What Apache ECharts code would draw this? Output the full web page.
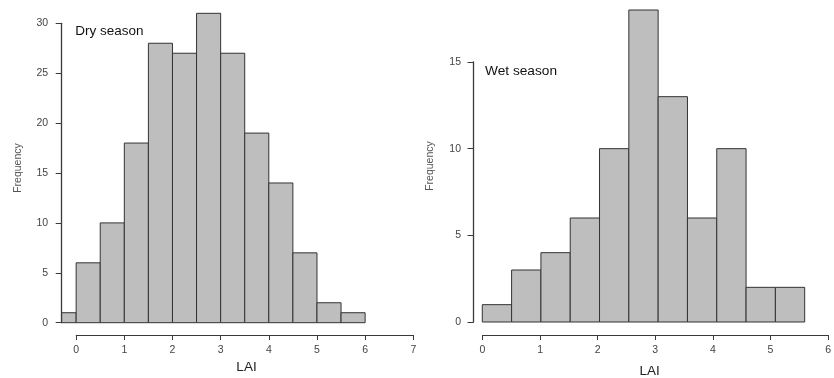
<!DOCTYPE html>
<html>
<head>
<meta charset="utf-8">
<script src="https://cdn.jsdelivr.net/npm/echarts@6/dist/echarts.min.js"></script>
<style>html,body{margin:0;padding:0;background:#fff;}#c{width:834px;height:378px;}</style>
</head>
<body>
<div id="c"></div>
<script>
// ---- data ----
const binWidth = 0.5;
const dryBinStarts = [-0.5, 0, 0.5, 1, 1.5, 2, 2.5, 3, 3.5, 4, 4.5, 5, 5.5];
const dryCounts    = [1, 6, 10, 18, 28, 27, 31, 27, 19, 14, 7, 2, 1];
const wetBinStarts = [0, 0.5, 1, 1.5, 2, 2.5, 3, 3.5, 4, 4.5, 5];
const wetCounts    = [1, 3, 4, 6, 10, 18, 13, 6, 10, 2, 2];
const dryXTicks = [0, 1, 2, 3, 4, 5, 6, 7];
const wetXTicks = [0, 1, 2, 3, 4, 5, 6];
const dryYTicks = [0, 5, 10, 15, 20, 25, 30];
const wetYTicks = [0, 5, 10, 15];
const dryTitle = 'Dry season';
const wetTitle = 'Wet season';
const xName = 'LAI';
const yName = 'Frequency';

// ---- chart ----
const FONT = "'Liberation Sans', Arial, sans-serif";
const AX = '#3a3a3a';
const chart = echarts.init(document.getElementById('c'), null, {renderer: 'canvas'});

function binData(starts, counts) {
  return starts.map((s, i) => [s, s + binWidth, counts[i]]);
}
function renderItem(params, api) {
  const lo = api.value(0), hi = api.value(1), n = api.value(2);
  const p0 = api.coord([lo, 0]);
  const p1 = api.coord([hi, n]);
  const cs = params.coordSys;
  const x0 = Math.max(p0[0], cs.x);
  return {
    type: 'rect',
    shape: {x: x0, y: p1[1], width: p1[0] - x0, height: p0[1] - p1[1]},
    style: {fill: '#bebebe', stroke: '#333', lineWidth: 1}
  };
}
function yDispCfg(grid, ticks, margin) {
  return {
    gridIndex: grid, type: 'value', min: ticks[0], max: ticks[ticks.length - 1],
    interval: ticks[1] - ticks[0], position: 'left',
    axisLine: {show: true, lineStyle: {color: AX, width: 1.3}},
    axisTick: {show: true, length: 6, lineStyle: {color: AX}},
    axisLabel: {margin: margin, fontSize: 10.5, fontFamily: FONT, color: '#444'},
    splitLine: {show: false}
  };
}
function xDispCfg(grid, ticks) {
  return {
    gridIndex: grid, type: 'value', min: ticks[0], max: ticks[ticks.length - 1],
    interval: ticks[1] - ticks[0], position: 'bottom',
    axisLine: {show: true, lineStyle: {color: AX, width: 1}},
    axisTick: {show: true, length: 5, lineStyle: {color: AX}},
    axisLabel: {margin: 9.5, fontSize: 10.5, fontFamily: FONT, color: '#444'},
    splitLine: {show: false}
  };
}
function hiddenAxis(grid, min, max) {
  return {gridIndex: grid, type: 'value', show: false, min: min, max: max,
          splitLine: {show: false}};
}
function txt(text, x, y, size, color, rot) {
  return {
    type: 'text', x: x, y: y, rotation: rot || 0, silent: true,
    style: {
      text: text, font: size + 'px ' + FONT, fill: color,
      textAlign: 'center', textVerticalAlign: 'middle', align: 'center', verticalAlign: 'middle'
    }
  };
}
function txtLeft(text, x, y, size, color) {
  const t = txt(text, x, y, size, color);
  t.style.textAlign = 'left'; t.style.align = 'left';
  return t;
}

const option = {
  animation: false,
  backgroundColor: '#fff',
  grid: [
    // 0: dry bars
    {left: 61.7, top: 23.3, width: 351.6, height: 299.4},
    // 1: dry x-axis display
    {left: 76.2, top: 334, width: 337.1, height: 1},
    // 2: wet bars
    {left: 473.5, top: 62, width: 363.2, height: 260},
    // 3: wet x-axis display
    {left: 482.5, top: 334, width: 354.2, height: 1},
    // 4: dry y-axis display
    {left: 61.7, top: 23.3, width: 10, height: 299.4},
    // 5: wet y-axis display
    {left: 473.5, top: 62, width: 10, height: 260}
  ],
  xAxis: [
    hiddenAxis(0, -0.3, 7),
    xDispCfg(1, dryXTicks),
    hiddenAxis(2, -0.15, 6),
    xDispCfg(3, wetXTicks),
    hiddenAxis(4, 0, 1),
    hiddenAxis(5, 0, 1)
  ],
  yAxis: [
    hiddenAxis(0, dryYTicks[0], dryYTicks[dryYTicks.length - 1]),
    hiddenAxis(1, 0, 1),
    hiddenAxis(2, wetYTicks[0], wetYTicks[wetYTicks.length - 1]),
    hiddenAxis(3, 0, 1),
    yDispCfg(4, dryYTicks, 13.5),
    yDispCfg(5, wetYTicks, 12.5)
  ],
  series: [
    {type: 'custom', xAxisIndex: 0, yAxisIndex: 0, clip: false, renderItem: renderItem,
     encode: {x: [0, 1], y: 2}, data: binData(dryBinStarts, dryCounts)},
    {type: 'custom', xAxisIndex: 2, yAxisIndex: 2, clip: false, renderItem: renderItem,
     encode: {x: [0, 1], y: 2}, data: binData(wetBinStarts, wetCounts)}
  ],
  graphic: [
    txtLeft(dryTitle, 75.3, 31, 13.5, '#111'),
    txtLeft(wetTitle, 485, 71, 13.7, '#111'),
    txt(xName, 246.5, 367, 13.5, '#222'),
    txt(xName, 649.7, 371, 13.5, '#222'),
    txt(yName, 18, 168, 10.5, '#555', Math.PI / 2),
    txt(yName, 430, 166, 10.5, '#555', Math.PI / 2)
  ]
};
chart.setOption(option);
</script>
</body>
</html>
